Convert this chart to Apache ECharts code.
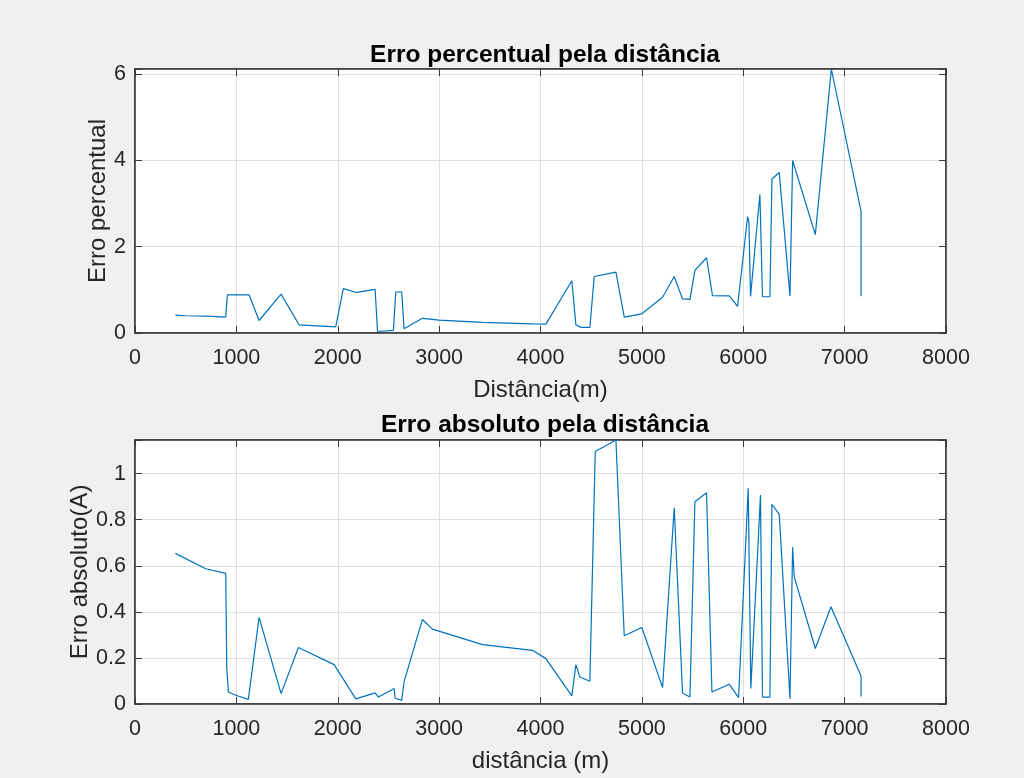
<!DOCTYPE html>
<html>
<head>
<meta charset="utf-8">
<script src="https://cdn.jsdelivr.net/npm/echarts@6/dist/echarts.min.js"></script>
<style>
html,body{margin:0;padding:0;background:#f0f0f0;}
#chart{width:1024px;height:778px;}
</style>
</head>
<body>
<div id="chart"></div>
<script>
// ---- Data ----
var titleTop = 'Erro percentual pela distância';
var titleBottom = 'Erro absoluto pela distância';
var xTicks = [0, 1000, 2000, 3000, 4000, 5000, 6000, 7000, 8000];
var yTicksTop = [0, 2, 4, 6];
var yTicksBottom = [0, 0.2, 0.4, 0.6, 0.8, 1];

var pctDist = [398, 500, 700, 895, 911, 1125, 1224, 1441, 1618, 1980, 2055, 2185, 2369, 2392, 2549, 2572,
  2631, 2654, 2835, 3000, 3428, 3921, 4053, 4309, 4349, 4398, 4487, 4530, 4744, 4826, 5000, 5204,
  5319, 5401, 5474, 5523, 5638, 5697, 5862, 5944, 6043, 6056, 6072, 6164, 6190, 6263, 6283, 6355,
  6461, 6487, 6711, 6869, 7162, 7162];
var pctErr = [0.415, 0.40, 0.39, 0.37, 0.886, 0.886, 0.29, 0.90, 0.19, 0.144, 1.03, 0.94, 1.01, 0.035, 0.06, 0.95,
  0.95, 0.10, 0.34, 0.30, 0.245, 0.21, 0.205, 1.21, 0.19, 0.13, 0.13, 1.31, 1.41, 0.37, 0.445, 0.83,
  1.31, 0.79, 0.78, 1.45, 1.745, 0.863, 0.86, 0.615, 2.70, 2.57, 0.85, 3.21, 0.84, 0.84, 3.57, 3.72,
  0.86, 4.0, 2.28, 6.12, 2.82, 0.85];

var absDist = [398, 698, 895, 905, 921, 994, 1118, 1224, 1441, 1612, 1964, 2178, 2369, 2401, 2556, 2566,
  2631, 2654, 2835, 2934, 3428, 3921, 4053, 4309, 4349, 4388, 4487, 4540, 4744, 4826, 5000, 5204,
  5319, 5401, 5474, 5523, 5638, 5691, 5862, 5954, 6049, 6075, 6170, 6190, 6263, 6283, 6355, 6461,
  6487, 6503, 6711, 6865, 7162, 7162];
var absErr = [0.654, 0.587, 0.567, 0.16, 0.052, 0.038, 0.02, 0.376, 0.045, 0.245, 0.171, 0.022, 0.048, 0.03, 0.067, 0.025,
  0.016, 0.096, 0.367, 0.325, 0.258, 0.233, 0.197, 0.035, 0.171, 0.117, 0.099, 1.096, 1.146, 0.296, 0.332, 0.071,
  0.852, 0.048, 0.03, 0.878, 0.917, 0.052, 0.086, 0.028, 0.936, 0.067, 0.907, 0.03, 0.03, 0.867, 0.823, 0.023,
  0.68, 0.552, 0.241, 0.422, 0.122, 0.033];

var topMax = 6.12, bottomMax = 1.146;

// ---- Styling ----
var FONT = 'Liberation Sans, Arial, Helvetica, sans-serif';
var TXT = '#262626';
var BOX = '#3a3a3a';
var GRIDC = '#dfdfdf';
var LINE = '#0072BD';

function zip(a, b) { return a.map(function (v, i) { return [v, b[i]]; }); }
function tickFormatter(list) {
  return function (v) {
    for (var i = 0; i < list.length; i++) {
      if (Math.abs(list[i] - v) < 1e-9) return String(list[i]);
    }
    return '';
  };
}
var tickStyle = { show: true, inside: true, length: 7, lineStyle: { color: BOX, width: 1 } };
var lineStyleAxis = { show: true, onZero: false, lineStyle: { color: BOX, width: 1.5 } };

function mainX(gi, name) {
  return {
    type: 'value', gridIndex: gi, position: 'bottom',
    min: xTicks[0], max: xTicks[xTicks.length - 1], interval: 1000,
    name: name, nameLocation: 'middle', nameGap: 45, nameMoveOverlap: false,
    nameTextStyle: { fontFamily: FONT, fontSize: 24, color: TXT },
    axisLine: lineStyleAxis,
    axisTick: tickStyle,
    axisLabel: { margin: 14, fontFamily: FONT, fontSize: 21.5, color: TXT, formatter: tickFormatter(xTicks) },
    splitLine: { show: true, lineStyle: { color: GRIDC, width: 1 } }
  };
}
function topX(gi) {
  return {
    type: 'value', gridIndex: gi, position: 'top',
    min: xTicks[0], max: xTicks[xTicks.length - 1], interval: 1000,
    axisLine: lineStyleAxis,
    axisTick: tickStyle,
    axisLabel: { show: false }, splitLine: { show: false }
  };
}
function mainY(gi, name, max, interval, ticks, gap) {
  return {
    type: 'value', gridIndex: gi, position: 'left',
    min: 0, max: max, interval: interval,
    name: name, nameLocation: 'middle', nameGap: gap, nameRotate: 90, nameMoveOverlap: false,
    nameTextStyle: { fontFamily: FONT, fontSize: 24, color: TXT },
    axisLine: lineStyleAxis,
    axisTick: tickStyle,
    axisLabel: { margin: 9, fontFamily: FONT, fontSize: 21.5, color: TXT, formatter: tickFormatter(ticks) },
    splitLine: { show: true, lineStyle: { color: GRIDC, width: 1 } }
  };
}
function rightY(gi, max, interval) {
  return {
    type: 'value', gridIndex: gi, position: 'right',
    min: 0, max: max, interval: interval,
    axisLine: lineStyleAxis,
    axisTick: tickStyle,
    axisLabel: { show: false }, splitLine: { show: false }
  };
}

var chart = echarts.init(document.getElementById('chart'), null, { renderer: 'canvas' });
chart.setOption({
  backgroundColor: '#f0f0f0',
  animation: false,
  title: [
    { text: titleTop, left: 540, textAlign: 'center', top: 38,
      textStyle: { fontFamily: FONT, fontSize: 24.5, fontWeight: 'bold', color: '#000' } },
    { text: titleBottom, left: 540, textAlign: 'center', top: 408,
      textStyle: { fontFamily: FONT, fontSize: 24.5, fontWeight: 'bold', color: '#000' } }
  ],
  grid: [
    { left: 135, top: 69, width: 811, height: 264, show: true, backgroundColor: '#ffffff',
      borderColor: BOX, borderWidth: 1.5, containLabel: false },
    { left: 135, top: 440, width: 811, height: 264, show: true, backgroundColor: '#ffffff',
      borderColor: BOX, borderWidth: 1.5, containLabel: false }
  ],
  xAxis: [
    mainX(0, 'Distância(m)'),
    mainX(1, 'distância (m)'),
    topX(0),
    topX(1)
  ],
  yAxis: [
    mainY(0, 'Erro percentual', topMax, 2, yTicksTop, 25),
    mainY(1, 'Erro absoluto(A)', bottomMax, 0.2, yTicksBottom, 43),
    rightY(0, topMax, 2),
    rightY(1, bottomMax, 0.2)
  ],
  series: [
    { type: 'line', xAxisIndex: 0, yAxisIndex: 0, data: zip(pctDist, pctErr),
      showSymbol: false, symbol: 'none', lineStyle: { color: LINE, width: 1.2 }, z: 3 },
    { type: 'line', xAxisIndex: 1, yAxisIndex: 1, data: zip(absDist, absErr),
      showSymbol: false, symbol: 'none', lineStyle: { color: LINE, width: 1.2 }, z: 3 }
  ]
});
</script>
</body>
</html>
